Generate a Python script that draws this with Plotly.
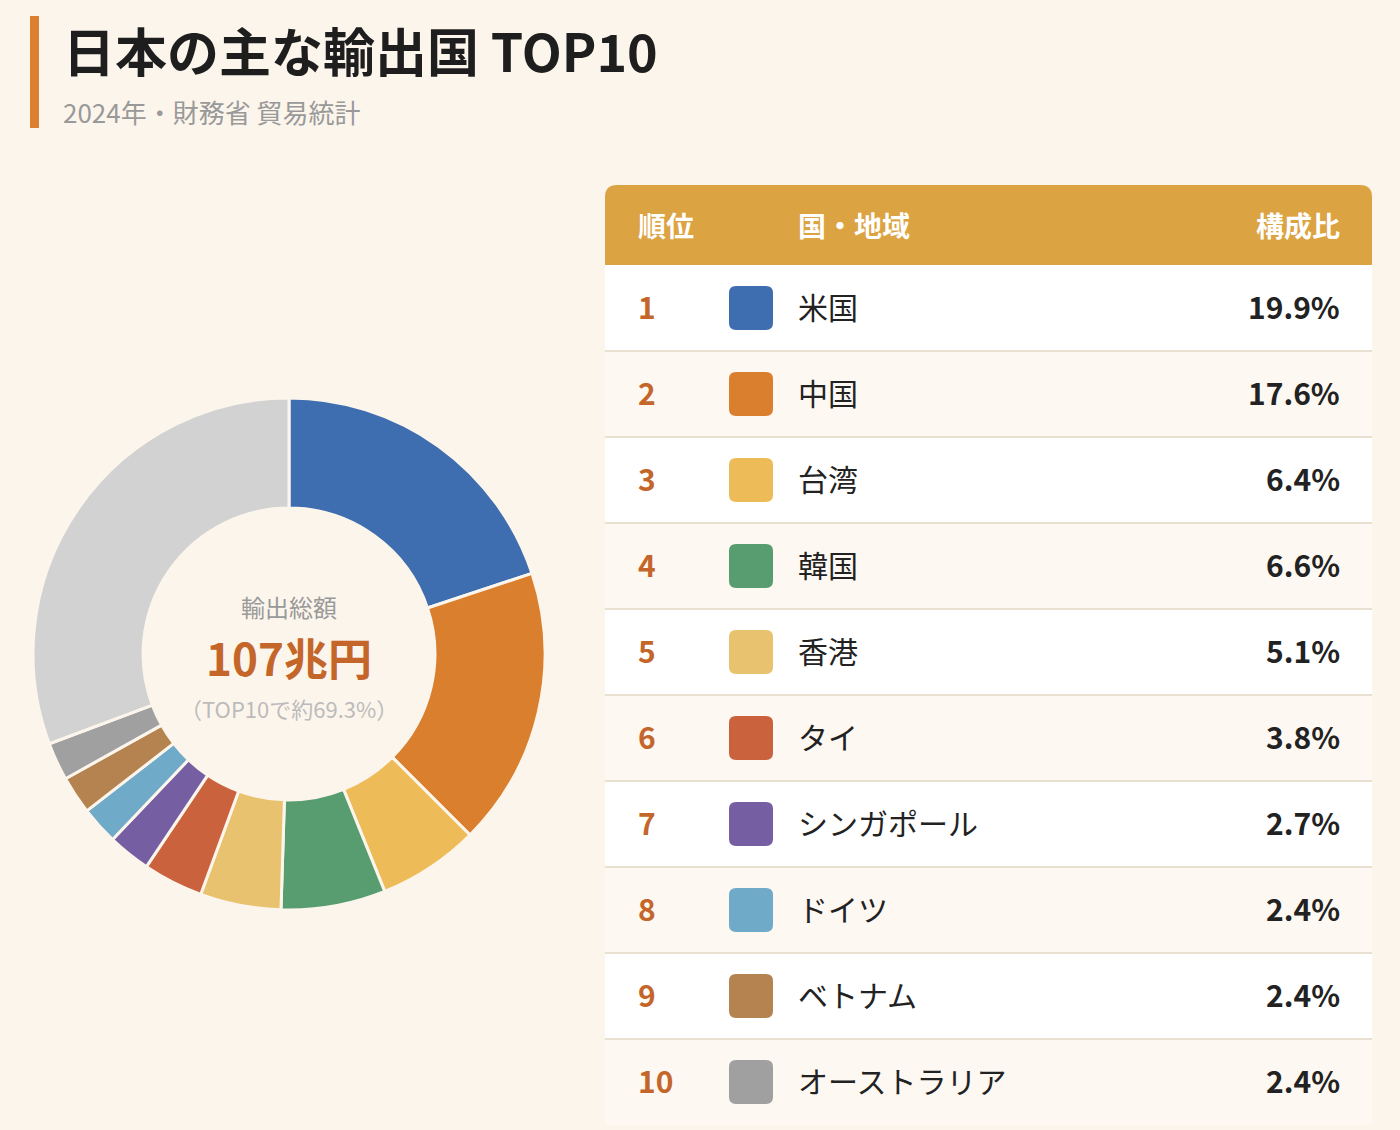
import plotly.graph_objects as go

# 2024年 財務省 貿易統計 - 輸出先の構成比 (%)
countries = ["米国", "中国", "台湾", "韓国", "香港", "タイ", "シンガポール", "ドイツ", "ベトナム", "オーストラリア"]
shares = [19.9, 17.6, 6.4, 6.6, 5.1, 3.8, 2.7, 2.4, 2.4, 2.4]
colors = ["#3F6EB0", "#DA7F2E", "#EDBB58", "#579D70", "#E8C26E",
          "#C9623D", "#765EA3", "#6FAAC8", "#B58350", "#A0A0A0"]
ranks = list(range(1, len(countries) + 1))
other_label = "その他"
other_share = 30.7
other_color = "#D2D2D2"

BG = "#FCF5EC"
FONT = "Noto Sans CJK JP"
W, H = 1400, 1130


def px_x(p):
    return p / W


def px_y(p):
    return 1 - p / H


def rounded_rect(w, h, r):
    # path centred on its anchor, pixel units
    x0, x1, y0, y1 = -w / 2, w / 2, -h / 2, h / 2
    return (f"M {x0+r},{y0} L {x1-r},{y0} Q {x1},{y0} {x1},{y0+r} "
            f"L {x1},{y1-r} Q {x1},{y1} {x1-r},{y1} L {x0+r},{y1} "
            f"Q {x0},{y1} {x0},{y1-r} L {x0},{y0+r} Q {x0},{y0} {x0+r},{y0} Z")


fig = go.Figure()

fig.add_trace(go.Pie(
    labels=countries + [other_label],
    values=shares + [other_share],
    marker=dict(colors=colors + [other_color], line=dict(color=BG, width=3)),
    hole=0.57, sort=False, direction="clockwise", rotation=0,
    textinfo="none", hoverinfo="label+percent", showlegend=False,
    domain=dict(x=[px_x(33), px_x(545)], y=[px_y(910), px_y(398)]),
))

# invisible anchor trace so the table axes exist
fig.add_trace(go.Scatter(x=[146] * len(ranks), y=ranks, xaxis="x2", yaxis="y2",
                         mode="markers", marker=dict(opacity=0), hoverinfo="skip",
                         showlegend=False))

shapes = []
annotations = []

# left accent bar + titles
shapes.append(dict(type="rect", xref="paper", yref="paper",
                   x0=px_x(30), x1=px_x(39), y0=px_y(128), y1=px_y(16),
                   fillcolor="#DB7F30", line=dict(width=0), layer="below"))
annotations.append(dict(text="<b>日本の主な輸出国 TOP10</b>", xref="paper", yref="paper",
                        x=px_x(61), y=px_y(50), xanchor="left", yanchor="middle",
                        showarrow=False, font=dict(size=52, color="#1E1E1E", family=FONT)))
annotations.append(dict(text="2024年・財務省 貿易統計", xref="paper", yref="paper",
                        x=px_x(61), y=px_y(111), xanchor="left", yanchor="middle",
                        showarrow=False, font=dict(size=26, color="#999999", family=FONT)))

# donut centre
cx = px_x(289)
annotations.append(dict(text="輸出総額", xref="paper", yref="paper", x=cx, y=px_y(606),
                        xanchor="center", yanchor="middle",
                        showarrow=False, font=dict(size=24, color="#999999", family=FONT)))
annotations.append(dict(text="<b>107兆円</b>", xref="paper", yref="paper", x=cx, y=px_y(657),
                        xanchor="center", yanchor="middle",
                        showarrow=False, font=dict(size=44, color="#C4662A", family=FONT)))
annotations.append(dict(text=f"（TOP10で約{sum(shares):.1f}%）", xref="paper", yref="paper",
                        x=cx, y=px_y(708), xanchor="center", yanchor="middle",
                        showarrow=False, font=dict(size=22, color="#BBBBBB", family=FONT)))

# table header (rounded top corners)
TW = 767
shapes.append(dict(type="path", xref="x2", yref="y2", xsizemode="pixel", ysizemode="pixel",
                   xanchor=0, yanchor=0.5,
                   path=f"M 0,0 L 0,68 Q 0,80 12,80 L {TW-12},80 Q {TW},80 {TW},68 L {TW},0 Z",
                   fillcolor="#DCA342", line=dict(width=0), layer="below"))
hy = 0.035
for txt, x, anchor in [("順位", 31, "left"), ("国・地域", 191, "left"), ("構成比", 737, "right")]:
    annotations.append(dict(text=f"<b>{txt}</b>", xref="x2", yref="y2", x=x, y=hy,
                            xanchor=anchor, yanchor="middle", showarrow=False,
                            font=dict(size=28, color="white", family=FONT)))

# rows
for r, name, val, col in zip(ranks, countries, shares, colors):
    shapes.append(dict(type="rect", xref="x2", yref="y2", x0=0, x1=TW, y0=r - 0.5, y1=r + 0.5,
                       fillcolor="#FFFFFF" if r % 2 else "#FEF8F2",
                       line=dict(width=0), layer="below"))
    if r < len(ranks):
        shapes.append(dict(type="line", xref="x2", yref="y2", x0=0, x1=TW, y0=r + 0.5, y1=r + 0.5,
                           line=dict(color="#EAE0D2", width=2)))
    shapes.append(dict(type="path", xref="x2", yref="y2", xsizemode="pixel", ysizemode="pixel",
                       xanchor=146, yanchor=r, path=rounded_rect(44, 44, 7),
                       fillcolor=col, line=dict(width=0)))
    annotations.append(dict(text=f"<b>{r}</b>", xref="x2", yref="y2", x=31, y=r - 0.02,
                            xanchor="left", yanchor="middle", showarrow=False,
                            font=dict(size=30, color="#C4662A", family=FONT)))
    annotations.append(dict(text=name, xref="x2", yref="y2", x=191, y=r - 0.02,
                            xanchor="left", yanchor="middle", showarrow=False,
                            font=dict(size=30, color="#222222", family=FONT)))
    annotations.append(dict(text=f"<b>{val:.1f}%</b>", xref="x2", yref="y2", x=737, y=r - 0.02,
                            xanchor="right", yanchor="middle", showarrow=False,
                            font=dict(size=30, color="#222222", family=FONT)))

fig.update_layout(
    width=W, height=H,
    margin=dict(l=0, r=0, t=0, b=0),
    paper_bgcolor=BG, plot_bgcolor="rgba(0,0,0,0)",
    font=dict(family=FONT),
    xaxis2=dict(domain=[px_x(605), px_x(1372)], range=[0, TW], visible=False, anchor="y2"),
    yaxis2=dict(domain=[0, px_y(185)], range=[0.5 + (H - 265) / 86, 0.5 - 80 / 86],
                visible=False, anchor="x2"),
    shapes=shapes, annotations=annotations,
)

fig.write_html("out.html", config={"displayModeBar": False},
               post_script="document.body.style.margin='0';")
